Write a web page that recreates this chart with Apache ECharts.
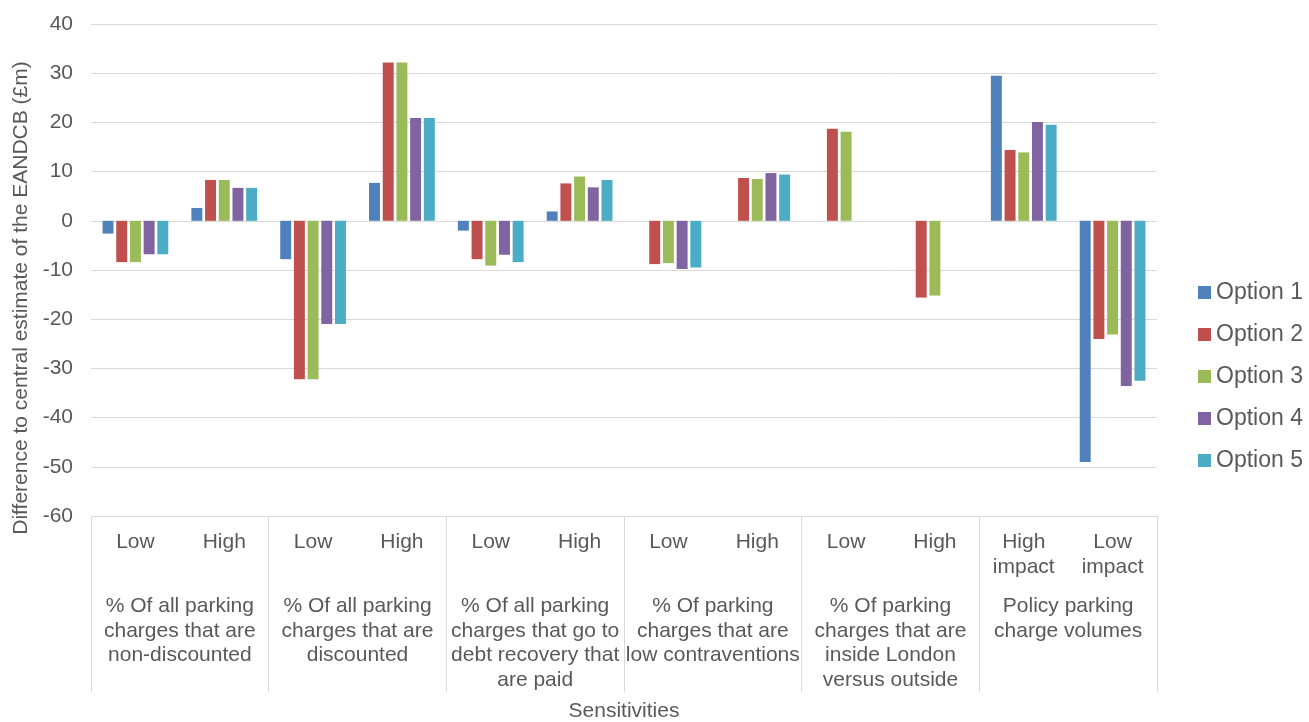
<!DOCTYPE html>
<html>
<head>
<meta charset="utf-8">
<script src="https://cdn.jsdelivr.net/npm/echarts@6/dist/echarts.min.js"></script>
<style>
  html, body { margin: 0; padding: 0; background: #fff; }
  #chart { width: 1309px; height: 722px; }
</style>
</head>
<body>
<div id="chart"></div>
<script>
// Sub-category labels (one per bar cluster)
const categories = ['Low', 'High', 'Low', 'High', 'Low', 'High', 'Low', 'High', 'Low', 'High', 'High\nimpact', 'Low\nimpact'];

// Sensitivity groups (each spans two clusters)
const groups = [
  '% Of all parking\ncharges that are\nnon-discounted',
  '% Of all parking\ncharges that are\ndiscounted',
  '% Of all parking\ncharges that go to\ndebt recovery that\nare paid',
  '% Of parking\ncharges that are\nlow contraventions',
  '% Of parking\ncharges that are\ninside London\nversus outside',
  'Policy parking\ncharge volumes'
];

const seriesNames = ['Option 1', 'Option 2', 'Option 3', 'Option 4', 'Option 5'];

// Difference to central estimate of the EANDCB (£m)
const option1 = [-2.6, 2.6, -7.8, 7.7, -2.0, 1.9, null, null, null, null, 29.5, -49.0];
const option2 = [-8.4, 8.3, -32.2, 32.2, -7.8, 7.6, -8.8, 8.7, 18.7, -15.6, 14.4, -24.0];
const option3 = [-8.4, 8.3, -32.2, 32.2, -9.1, 9.0, -8.6, 8.5, 18.1, -15.2, 13.9, -23.1];
const option4 = [-6.8, 6.7, -21.0, 20.9, -6.9, 6.8, -9.8, 9.7, null, null, 20.1, -33.6];
const option5 = [-6.8, 6.7, -21.0, 20.9, -8.4, 8.3, -9.5, 9.4, null, null, 19.5, -32.5];

const colors = ['#4F81BD', '#C0504D', '#9BBB59', '#8064A2', '#4BACC6'];
const values = [option1, option2, option3, option4, option5];

const textColor = '#595959';
const lineColor = '#D9D9D9';
const fontFamily = '"Liberation Sans", Arial, sans-serif';

const chart = echarts.init(document.getElementById('chart'), null, { renderer: 'canvas' });

chart.setOption({
  animation: false,
  color: colors,
  textStyle: { fontFamily: fontFamily, color: textColor },
  grid: { left: 91, right: 152, top: 24, bottom: 206, containLabel: false, outerBoundsMode: 'none' },
  legend: {
    orient: 'vertical',
    left: 1193,
    top: 276,
    itemWidth: 13,
    itemHeight: 13,
    itemGap: 19,
    icon: 'rect',
    textStyle: { fontSize: 23, color: textColor, fontFamily: fontFamily },
    data: seriesNames
  },
  xAxis: [
    {
      type: 'category',
      data: categories,
      position: 'bottom',
      axisLine: { show: true, lineStyle: { color: lineColor, width: 1 } },
      axisTick: { show: false },
      axisLabel: {
        interval: 0,
        margin: 14,
        fontSize: 21,
        lineHeight: 25,
        color: textColor,
        fontFamily: fontFamily
      },
      splitLine: { show: false }
    },
    {
      type: 'category',
      data: groups,
      position: 'bottom',
      axisLine: { show: false },
      axisTick: { show: true, length: 176, lineStyle: { color: lineColor, width: 1 } },
      axisLabel: {
        interval: 0,
        margin: 78,
        fontSize: 21,
        lineHeight: 24.5,
        color: textColor,
        fontFamily: fontFamily
      },
      name: 'Sensitivities',
      nameLocation: 'middle',
      nameGap: 185,
      nameTextStyle: { fontSize: 21, color: textColor, fontFamily: fontFamily },
      splitLine: { show: false }
    }
  ],
  yAxis: {
    type: 'value',
    min: -60,
    max: 40,
    interval: 10,
    axisLine: { show: false },
    axisTick: { show: false },
    axisLabel: { margin: 18, fontSize: 21, color: textColor, fontFamily: fontFamily },
    splitLine: { show: true, lineStyle: { color: lineColor, width: 1 } },
    name: 'Difference to central estimate of the EANDCB (£m)',
    nameLocation: 'middle',
    nameGap: 58,
    nameTextStyle: { fontSize: 21, color: textColor, fontFamily: fontFamily, padding: [0, 56, 0, 0] }
  },
  series: seriesNames.map((name, i) => ({
    name: name,
    type: 'bar',
    xAxisIndex: 0,
    data: values[i],
    barGap: '25%',
    barCategoryGap: '26%',
    itemStyle: { color: colors[i] }
  }))
});
</script>
</body>
</html>
